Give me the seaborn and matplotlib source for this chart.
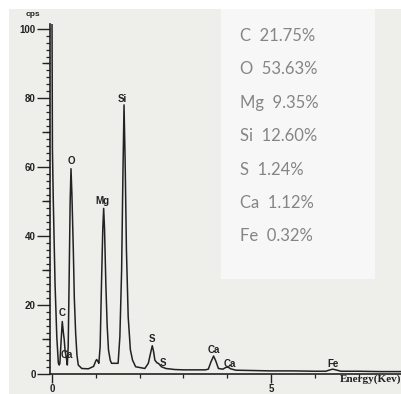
import numpy as np
import matplotlib
matplotlib.use("Agg")
import matplotlib.pyplot as plt
from matplotlib.patches import Rectangle
import seaborn as sns

# EDS spectrum trace: energy (keV) and counts (cps)
energy = [0.00, 0.01, 0.03, 0.07, 0.11, 0.145, 0.165, 0.18, 0.21, 0.235,
          0.26, 0.28, 0.30, 0.31, 0.33, 0.35, 0.37, 0.39, 0.415, 0.434,
          0.455, 0.487, 0.51, 0.54, 0.57, 0.60, 0.68, 0.83, 0.95, 1.00,
          1.02, 1.05, 1.07, 1.10, 1.13, 1.16, 1.18, 1.20, 1.23, 1.26,
          1.29, 1.33, 1.36, 1.51, 1.55, 1.59, 1.62, 1.645, 1.67, 1.70,
          1.74, 1.79, 1.84, 1.91, 2.12, 2.20, 2.25, 2.29, 2.32, 2.35,
          2.40, 2.43, 2.50, 2.60, 2.80, 3.00, 3.30, 3.50, 3.57, 3.63,
          3.69, 3.74, 3.80, 3.90, 3.97, 4.02, 4.08, 4.20, 4.60, 5.00,
          5.50, 6.00, 6.25, 6.35, 6.41, 6.48, 6.60, 7.00, 7.50, 8.00]
counts = [104.0, 65.0, 50.0, 26.0, 10.7, 3.2, 2.6, 3.1, 10.0, 15.2,
          12.0, 9.9, 6.5, 6.0, 4.5, 2.6, 8.0, 26.0, 50.0, 59.5,
          52.0, 36.0, 22.0, 11.9, 5.5, 2.6, 1.6, 1.5, 2.2, 3.8,
          4.2, 3.6, 3.1, 8.0, 26.0, 42.0, 48.0, 42.0, 26.0, 14.0,
          7.0, 4.0, 3.1, 3.1, 10.8, 30.0, 58.0, 78.0, 62.0, 36.0,
          16.6, 7.0, 4.0, 2.1, 1.6, 3.1, 6.0, 8.2, 6.5, 4.0,
          3.2, 3.1, 2.1, 1.6, 1.3, 1.2, 1.2, 1.2, 1.4, 3.5,
          5.2, 3.8, 1.6, 1.4, 1.9, 2.0, 1.5, 1.1, 1.0, 0.9,
          0.9, 0.8, 0.8, 1.2, 1.4, 1.2, 0.8, 0.8, 0.7, 0.7]

# Peak identifications
peak_labels = ["C", "Ca", "O", "Mg", "Si", "S", "S", "Ca", "Ca", "Fe"]
peak_energy = [0.235, 0.315, 0.434, 1.18, 1.645, 2.29, 2.46, 3.69, 4.02, 6.41]

# Quantification (wt %)
elements = ["C", "O", "Mg", "Si", "S", "Ca", "Fe"]
weight_pct = [21.75, 53.63, 9.35, 12.60, 1.24, 1.12, 0.32]

W, H = 401, 394
sns.set_style("ticks")
plt.rcParams["font.family"] = ["Liberation Sans", "DejaVu Sans"]

fig = plt.figure(figsize=(W / 100, H / 100), dpi=100)
fig.patch.set_facecolor("#eeeeeb")

# paper margins and quantification panel
fig.patches.append(Rectangle((0, 1 - 9 / H), 1, 9 / H, transform=fig.transFigure,
                             facecolor="white", edgecolor="none", zorder=-5))
fig.patches.append(Rectangle((0, 0), 9 / W, 1, transform=fig.transFigure,
                             facecolor="white", edgecolor="none", zorder=-5))
fig.patches.append(Rectangle((221 / W, 1 - 279 / H), 154 / W, 270 / H,
                             transform=fig.transFigure, facecolor="#f7f7f7",
                             edgecolor="none", zorder=-4))

ax_left, ax_right = 49.8, 401.0
ax_top, ax_bottom = 23.8, 374.0
ax = fig.add_axes([ax_left / W, 1 - ax_bottom / H,
                   (ax_right - ax_left) / W, (ax_bottom - ax_top) / H])
ax.set_facecolor("none")

ink = "#222222"
sns.lineplot(x=energy, y=counts, ax=ax, color=ink, linewidth=1.1)

ax.set_xlim(-0.05, 7.97)
ax.set_ylim(0, 101.5)
sns.despine(ax=ax)
for s in ("left", "bottom"):
    ax.spines[s].set_color(ink)
    ax.spines[s].set_linewidth(1.2)

# y axis: labelled ticks every 20, minor every 2
ax.set_yticks([0, 20, 40, 60, 80, 100])
ax.set_yticks(np.arange(0, 101, 2), minor=True)
ax.tick_params(axis="y", which="major", direction="out", length=9.2, width=1.0,
               pad=1, labelsize=7, colors=ink)
ax.tick_params(axis="y", which="minor", direction="out", length=3.2, width=0.9,
               colors=ink)
for lab in ax.get_yticklabels():
    lab.set_fontweight("bold")
# intermediate ticks at the odd tens
mid = ax.secondary_yaxis("left")
mid.set_yticks([10, 30, 50, 70, 90])
mid.set_yticklabels([])
mid.tick_params(axis="y", direction="out", length=6, width=1.0, colors=ink)
mid.spines["left"].set_visible(False)

# x axis: ticks every keV, labels at 0 and 5
ax.set_xticks([0, 5])
ax.set_xticklabels(["0", "5"])
ax.set_xticks(np.arange(0, 8, 1), minor=True)
ax.tick_params(axis="x", which="major", direction="out", length=6.8, width=1.0,
               pad=0.5, labelsize=7, colors=ink)
ax.tick_params(axis="x", which="minor", direction="out", length=3, width=0.9,
               colors=ink)
for lab in ax.get_xticklabels():
    lab.set_fontweight("bold")
ax.set_xlabel("")
ax.set_ylabel("")

# peak labels above the trace
offsets = [(0, 6), (1, 0), (0, 5.5), (-1, 5), (-1, 4.5), (0, 5), (2, 1),
           (0, 4.5), (1, 2.5), (0, 3.5)]
for name, e, (dx, dy) in zip(peak_labels, peak_energy, offsets):
    y = float(np.interp(e, energy, counts))
    ax.annotate(name, (e, y), xytext=(dx, dy), textcoords="offset points",
                ha="center", va="center", fontsize=7, fontweight="bold",
                color=ink)

fig.text(33 / W, 1 - 14 / H, "cps", ha="center", va="center", fontsize=6,
         fontweight="bold", color=ink)
fig.text(371 / W, 1 - 379 / H, "Energy(Kev)", ha="center", va="center",
         fontsize=8, fontweight="bold", color=ink,
         family=["Liberation Serif", "DejaVu Serif"])

# quantification list
for i, (el, pct) in enumerate(zip(elements, weight_pct)):
    fig.text(240 / W, 1 - (36 + 33.4 * i) / H, f"{el}  {pct:.2f}%",
             ha="left", va="center", fontsize=12, color="#858585",
             family=["Lato", "DejaVu Sans"])

fig.savefig("out.png", dpi=100, facecolor=fig.get_facecolor())
